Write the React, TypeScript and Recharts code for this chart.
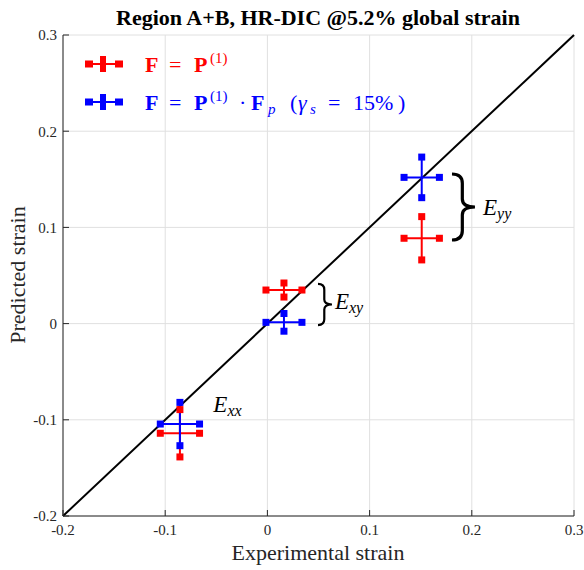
import {
  ScatterChart, Scatter, XAxis, YAxis, CartesianGrid, ErrorBar,
  ReferenceLine, ReferenceDot, ReferenceArea,
} from 'recharts';

const axisTicks = [-0.2, -0.1, 0, 0.1, 0.2, 0.3];

// experimental strain (x) is shared by both models
const expStrain = [-0.0856, 0.0162, 0.151];
const expErr = [0.0192, 0.0176, 0.0173];

// F = P(1)
const predP = [-0.114, 0.0349, 0.0887];
const predPErr = [0.0246, 0.0073, 0.0225];

// F = P(1) . Fp
const predPFp = [-0.1044, 0.0013, 0.152];
const predPFpErr = [0.0225, 0.0092, 0.0211];

const RED = '#ff0000';
const BLUE = '#0000ff';
const AXIS = '#262626';
const FONT = "'Liberation Serif', serif";

const toPoints = (ys: number[], eys: number[]) =>
  expStrain.map((x, i) => ({ x, y: ys[i], ex: expErr[i], ey: eys[i] }));

const toEnds = (ys: number[], eys: number[]) =>
  expStrain.flatMap((x, i) => [
    { x: x - expErr[i], y: ys[i] },
    { x: x + expErr[i], y: ys[i] },
    { x, y: ys[i] - eys[i] },
    { x, y: ys[i] + eys[i] },
  ]);

const redPts = toPoints(predP, predPErr);
const bluePts = toPoints(predPFp, predPFpErr);
const redEnds = toEnds(predP, predPErr);
const blueEnds = toEnds(predPFp, predPFpErr);

const square = (fill: string) => (p: any) => (
  <rect x={p.cx - 3.5} y={p.cy - 3.5} width={7} height={7} fill={fill} />
);
const nothing = () => <g />;

const brace = (sw: number) => (p: any) => {
  const { x, y, width: w, height: h } = p;
  const m = x + w * 0.45;
  const d = `M${x},${y} Q${m},${y} ${m},${y + h * 0.14} L${m},${y + h * 0.38} Q${m},${y + h * 0.5} ${x + w},${y + h * 0.5}
    Q${m},${y + h * 0.5} ${m},${y + h * 0.62} L${m},${y + h * 0.86} Q${m},${y + h} ${x},${y + h}`;
  return <path d={d} fill="none" stroke="#000" strokeWidth={sw} />;
};

const strainLabel = (sub: string) => (p: any) => (
  <text x={p.cx} y={p.cy} fontFamily={FONT} fontStyle="italic" fontSize={23} fill="#000">
    E<tspan fontSize={16} dy={4}>{sub}</tspan>
  </text>
);

const tickStyle = { fontSize: 15, fill: AXIS, fontFamily: FONT };
const blank = () => '';

function LegendSample({ y, color }: { y: number; color: string }) {
  return (
    <g>
      <line x1={88} x2={120} y1={y} y2={y} stroke={color} strokeWidth={2} />
      <rect x={85} y={y - 3.5} width={8} height={7} fill={color} />
      <rect x={115} y={y - 3.5} width={8} height={7} fill={color} />
      <rect x={100} y={y - 8} width={6} height={16} fill={color} />
    </g>
  );
}

function LegendText({ y, color, full }: { y: number; color: string; full: boolean }) {
  return (
    <text y={y} fontFamily={FONT} fontSize={22} fill={color}>
      <tspan x={145} fontWeight="bold">F</tspan>
      <tspan x={169}>=</tspan>
      <tspan x={194} fontWeight="bold">P</tspan>
      <tspan x={210} y={y - 9} fontSize={15}>(1)</tspan>
      {full && (
        <>
          <tspan x={239} y={y}>·</tspan>
          <tspan x={251} fontWeight="bold">F</tspan>
          <tspan x={268} y={y + 4} fontSize={15} fontStyle="italic">p</tspan>
          <tspan x={290} y={y}>(</tspan>
          <tspan x={298} fontStyle="italic">γ</tspan>
          <tspan x={310} y={y + 4} fontSize={15} fontStyle="italic">s</tspan>
          <tspan x={328} y={y}>=</tspan>
          <tspan x={353}>15%</tspan>
          <tspan x={398}>)</tspan>
        </>
      )}
    </text>
  );
}

export default function App() {
  return (
    <div style={{ position: 'absolute', left: 0, top: 0, width: 584, height: 570, background: '#fff' }}>
      <ScatterChart width={584} height={570} margin={{ top: 35, right: 10, bottom: 24, left: 3 }}>
        <CartesianGrid stroke="#e0e0e0" />
        <XAxis
          type="number" dataKey="x" domain={[-0.2, 0.3]} ticks={axisTicks} allowDataOverflow
          height={30} stroke={AXIS} tickSize={-6} tickMargin={14} tick={tickStyle}
        />
        <XAxis
          xAxisId="top" orientation="top" type="number" domain={[-0.2, 0.3]} ticks={axisTicks}
          height={0} stroke={AXIS} tickSize={-6} tickFormatter={blank}
        />
        <YAxis
          type="number" dataKey="y" domain={[-0.2, 0.3]} ticks={axisTicks} allowDataOverflow
          width={60} stroke={AXIS} tickSize={-6} tickMargin={12} tick={tickStyle}
        />
        <YAxis
          yAxisId="right" orientation="right" type="number" domain={[-0.2, 0.3]} ticks={axisTicks}
          width={0} stroke={AXIS} tickSize={-6} tickFormatter={blank}
        />
        <ReferenceLine
          segment={[{ x: -0.2, y: -0.2 }, { x: 0.3, y: 0.3 }]}
          stroke="#000" strokeWidth={2}
        />
        <Scatter data={redPts} shape={nothing} isAnimationActive={false}>
          <ErrorBar dataKey="ex" direction="x" width={0} stroke={RED} strokeWidth={2} isAnimationActive={false} />
          <ErrorBar dataKey="ey" direction="y" width={0} stroke={RED} strokeWidth={2} isAnimationActive={false} />
        </Scatter>
        <Scatter data={redEnds} shape={square(RED)} isAnimationActive={false} />
        <Scatter data={bluePts} shape={nothing} isAnimationActive={false}>
          <ErrorBar dataKey="ex" direction="x" width={0} stroke={BLUE} strokeWidth={2} isAnimationActive={false} />
          <ErrorBar dataKey="ey" direction="y" width={0} stroke={BLUE} strokeWidth={2} isAnimationActive={false} />
        </Scatter>
        <Scatter data={blueEnds} shape={square(BLUE)} isAnimationActive={false} />

        <ReferenceArea x1={0.0495} x2={0.0632} y1={-0.0015} y2={0.0412} shape={brace(2.2)} />
        <ReferenceArea x1={0.1806} x2={0.2031} y1={0.0869} y2={0.1555} shape={brace(3.2)} />
        <ReferenceDot x={-0.0529} y={-0.0919} shape={strainLabel('xx')} />
        <ReferenceDot x={0.0661} y={0.0152} shape={strainLabel('xy')} />
        <ReferenceDot x={0.211} y={0.1129} shape={strainLabel('yy')} />
      </ScatterChart>

      <svg width={584} height={570} style={{ position: 'absolute', left: 0, top: 0, pointerEvents: 'none' }}>
        <text x={318} y={25} textAnchor="middle" fontFamily={FONT} fontWeight="bold" fontSize={22} fill="#000">
          Region A+B, HR-DIC @5.2% global strain
        </text>
        <text x={318} y={560} textAnchor="middle" fontFamily={FONT} fontSize={22} fill={AXIS}>
          Experimental strain
        </text>
        <text
          transform="translate(25,275) rotate(-90)" textAnchor="middle"
          fontFamily={FONT} fontSize={22} fill={AXIS}
        >
          Predicted strain
        </text>

        <LegendSample y={64} color={RED} />
        <LegendText y={72} color={RED} full={false} />
        <LegendSample y={102} color={BLUE} />
        <LegendText y={110} color={BLUE} full />
      </svg>
    </div>
  );
}
